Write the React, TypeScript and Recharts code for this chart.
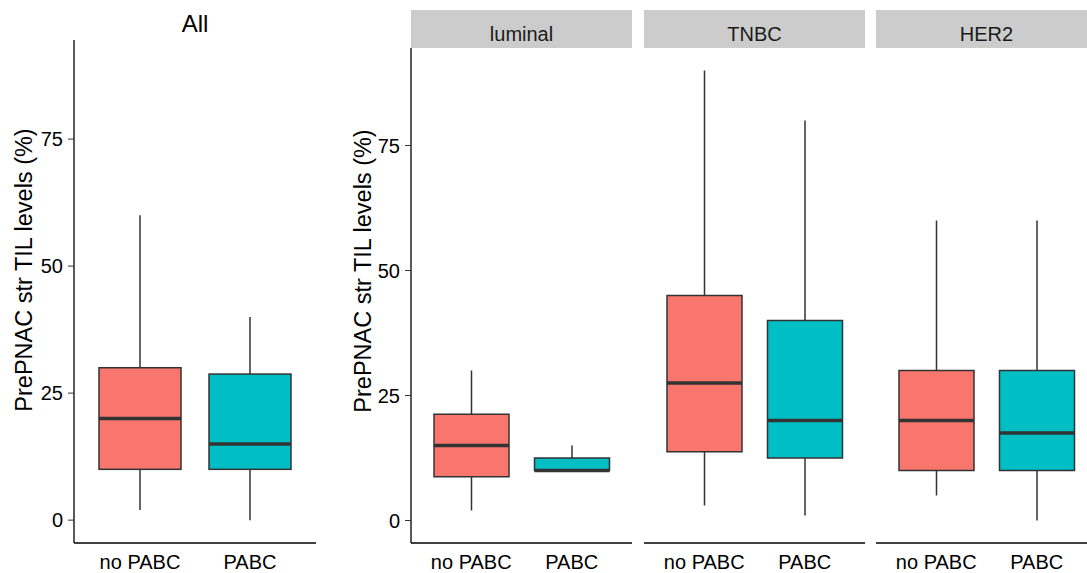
import { ComposedChart, Bar, XAxis, YAxis } from "recharts";

const CATEGORIES = ["no PABC", "PABC"];
const SUBTYPES = ["luminal", "TNBC", "HER2"];
const Y_TICKS = [0, 25, 50, 75];

// "All" panel: box stats per category
const ALL_LOW = [2, 0];
const ALL_Q1 = [10, 10];
const ALL_MEDIAN = [20, 15];
const ALL_Q3 = [30, 28.75];
const ALL_HIGH = [60, 40];

// subtype panels (luminal, TNBC, HER2), each [no PABC, PABC]
const SUB_LOW = [[2, 10], [3, 1], [5, 0]];
const SUB_Q1 = [[8.75, 10], [13.75, 12.5], [10, 10]];
const SUB_MEDIAN = [[15, 10], [27.5, 20], [20, 17.5]];
const SUB_Q3 = [[21.25, 12.5], [45, 40], [30, 30]];
const SUB_HIGH = [[30, 15], [90, 80], [60, 60]];

const FILLS = ["#F8766D", "#00BFC4"];
const FONT = "'Liberation Sans', Arial, Helvetica, sans-serif";
const DOMAIN: [number, number] = [-4.5, 94.5];
const Y_TITLE = "PrePNAC str TIL levels (%)";

function rows(low: number[], q1: number[], med: number[], q3: number[], high: number[]) {
  return CATEGORIES.map((name, i) => ({
    name,
    range: [low[i], high[i]],
    low: low[i],
    q1: q1[i],
    median: med[i],
    q3: q3[i],
    high: high[i],
  }));
}

// draws a box + whiskers inside the pixel span of the [low, high] range bar
function BoxShape(props: any) {
  const { x, y, width, height, payload, index } = props;
  const { low, q1, median, q3, high } = payload;
  const top = Math.min(y, y + height);
  const bottom = Math.max(y, y + height);
  const span = high - low || 1;
  const py = (v: number) => bottom - ((bottom - top) * (v - low)) / span;
  const cx = x + width / 2;
  const stroke = "#333333";
  return (
    <g>
      <line x1={cx} x2={cx} y1={py(high)} y2={py(q3)} stroke={stroke} strokeWidth={1.5} />
      <line x1={cx} x2={cx} y1={py(q1)} y2={py(low)} stroke={stroke} strokeWidth={1.5} />
      <rect
        x={x}
        y={py(q3)}
        width={width}
        height={py(q1) - py(q3)}
        fill={FILLS[index]}
        stroke={stroke}
        strokeWidth={1.5}
      />
      <line x1={x} x2={x + width} y1={py(median)} y2={py(median)} stroke={stroke} strokeWidth={3.5} />
    </g>
  );
}

function Panel({
  data,
  left,
  width,
  top,
  yAxisWidth,
  barSize,
  pad,
}: {
  data: any[];
  left: number;
  width: number;
  top: number;
  yAxisWidth: number;
  barSize: number;
  pad: number;
}) {
  return (
    <div style={{ position: "absolute", left, top: 0 }}>
      <ComposedChart
        width={width}
        height={573}
        data={data}
        margin={{ top, right: 0, bottom: 0, left: 0 }}
      >
        <XAxis
          dataKey="name"
          height={30}
          padding={{ left: pad, right: pad }}
          tickLine={false}
          tickSize={0}
          tickMargin={12}
          axisLine={{ stroke: "#000", strokeWidth: 1.3 }}
          tick={{ fill: "#000", fontSize: 20, fontFamily: FONT }}
        />
        <YAxis
          type="number"
          domain={DOMAIN}
          ticks={Y_TICKS}
          allowDataOverflow
          hide={yAxisWidth === 0}
          width={yAxisWidth}
          tickSize={6}
          tickMargin={5}
          tickLine={{ stroke: "#333" }}
          axisLine={{ stroke: "#000", strokeWidth: 1.3 }}
          tick={{ fill: "#000", fontSize: 20, fontFamily: FONT }}
        />
        <Bar dataKey="range" barSize={barSize} shape={BoxShape} isAnimationActive={false} />
      </ComposedChart>
    </div>
  );
}

export default function App() {
  const allData = rows(ALL_LOW, ALL_Q1, ALL_MEDIAN, ALL_Q3, ALL_HIGH);
  const subData = SUBTYPES.map((_, k) =>
    rows(SUB_LOW[k], SUB_Q1[k], SUB_MEDIAN[k], SUB_Q3[k], SUB_HIGH[k])
  );
  const subLefts = [340, 644, 876];
  const stripLefts = [411, 644, 876];
  return (
    <div
      style={{
        position: "absolute",
        left: 0,
        top: 0,
        width: 1087,
        height: 573,
        overflow: "hidden",
        background: "#fff",
      }}
    >
      <Panel data={allData} left={0} width={316} top={40} yAxisWidth={74} barSize={82} pad={11} />
      {subData.map((d, k) => (
        <Panel
          key={SUBTYPES[k]}
          data={d}
          left={subLefts[k]}
          width={k === 0 ? 292 : 221}
          top={48}
          yAxisWidth={k === 0 ? 71 : 0}
          barSize={75}
          pad={10}
        />
      ))}
      <svg
        width={1087}
        height={573}
        style={{ position: "absolute", left: 0, top: 0, pointerEvents: "none" }}
        fontFamily={FONT}
      >
        <text x={195} y={32} textAnchor="middle" fontSize={24} fill="#000">
          All
        </text>
        {SUBTYPES.map((s, k) => (
          <g key={s}>
            <rect x={stripLefts[k]} y={10} width={k === 0 ? 221 : 221} height={38} fill="#CCCCCC" />
            <text
              x={stripLefts[k] + 110.5}
              y={41}
              textAnchor="middle"
              fontSize={20}
              fill="#1A1A1A"
            >
              {s}
            </text>
          </g>
        ))}
        <text
          transform="translate(32,270) rotate(-90)"
          textAnchor="middle"
          fontSize={23.5}
          fill="#000"
        >
          {Y_TITLE}
        </text>
        <text
          transform="translate(371,271) rotate(-90)"
          textAnchor="middle"
          fontSize={23.5}
          fill="#000"
        >
          {Y_TITLE}
        </text>
      </svg>
    </div>
  );
}
